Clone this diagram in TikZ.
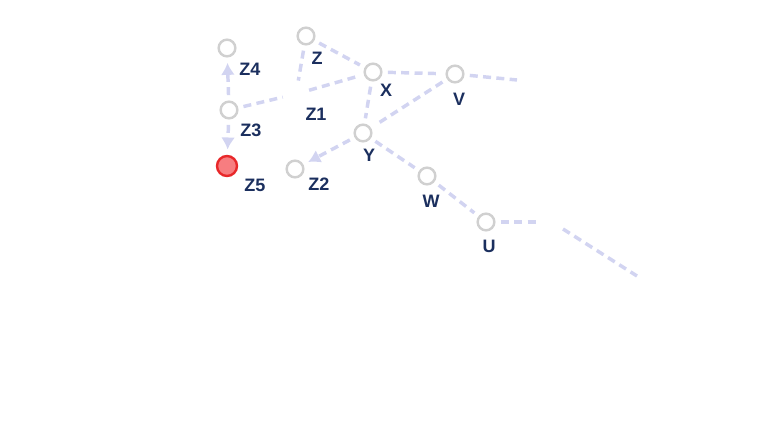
\documentclass[tikz,border=0pt]{standalone}
\usepackage{fontspec}
\setmainfont{Liberation Sans}
\usepackage{tikz}
\usetikzlibrary{arrows.meta,positioning}
\definecolor{edgeblue}{HTML}{D2D4F1}
\definecolor{ringgray}{HTML}{D0D0D0}
\definecolor{labelnavy}{HTML}{1B2F5E}
\definecolor{hotred}{HTML}{E8282A}
\definecolor{hotfill}{HTML}{F77D80}

\begin{document}
\begin{tikzpicture}[
  x=0.75pt,y=-0.75pt,
  vertex/.style={circle,draw=ringgray,line width=1.8pt,fill=white,minimum size=12.5pt,inner sep=0pt},
  ghost/.style={circle,minimum size=12pt,inner sep=0pt},
  hot/.style={circle,draw=hotred,line width=1.8pt,fill=hotfill,minimum size=15pt,inner sep=0pt},
  lbl/.style={font=\fontsize{13.5}{15}\selectfont\bfseries,text=labelnavy,inner sep=0pt},
  link/.style={dash pattern=on 6pt off 4pt,line width=2.6pt,color=edgeblue,shorten <=4pt,shorten >=4pt},
  arrow/.style={link,-{Latex[length=9pt,width=10.5pt]}}
]
\useasboundingbox (0,0) rectangle (768,435);
% nodes
\node[vertex] (z4) at (227,48) {};
\node[vertex] (z) at (306,36) {};
\node[vertex] (x) at (373,72) {};
\node[vertex] (v) at (455,74) {};
\node[vertex] (z3) at (229,110) {};
\node[ghost] (z1) at (296,94) {};
\node[vertex] (y) at (363,133) {};
\node[hot] (z5) at (227,166) {};
\node[vertex] (z2) at (295,169) {};
\node[vertex] (w) at (427,176) {};
\node[vertex] (u) at (486,222) {};
\coordinate (vend) at (517,80);
\coordinate (uend) at (537,222);
\coordinate (farA) at (563,229);
\coordinate (farB) at (637,276);
% labels
\node[lbl] at (250,69) {Z4};
\node[lbl] at (317,58) {Z};
\node[lbl] at (386,90) {X};
\node[lbl] at (459,99) {V};
\node[lbl] at (316,114) {Z1};
\node[lbl] at (251,130) {Z3};
\node[lbl] at (369,155) {Y};
\node[lbl] at (255,185) {Z5};
\node[lbl] at (319,184) {Z2};
\node[lbl] at (431,201) {W};
\node[lbl] at (489,246) {U};
% connectors
\draw[link] (z) -- (x);
\draw[link] (z) -- (z1);
\draw[link] (z3) -- (z1);
\draw[link] (z1) -- (x);
\draw[link] (x) -- (v);
\draw[link,shorten >=0pt] (v) -- (vend);
\draw[link] (x) -- (y);
\draw[link] (v) -- (y);
\draw[link] (y) -- (w);
\draw[link] (w) -- (u);
\draw[link,shorten >=0pt] (u) -- (uend);
\draw[link,shorten <=0pt,shorten >=0pt] (farA) -- (farB);
\draw[arrow] (y) -- (z2);
\draw[arrow] (z3) -- (z4);
\draw[arrow] (z3) -- (z5);
\end{tikzpicture}
\end{document}
